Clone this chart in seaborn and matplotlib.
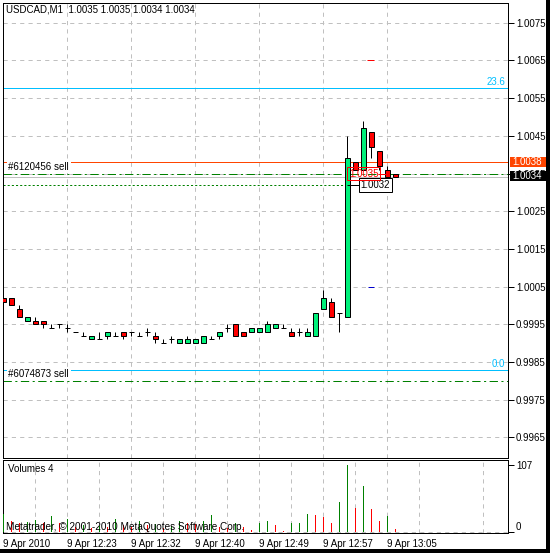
import matplotlib
matplotlib.use("Agg")
import matplotlib.pyplot as plt
import matplotlib.transforms as mtransforms
from matplotlib.patches import Rectangle
import numpy as np
import pandas as pd
import seaborn as sns

# ---------------- data ----------------
chart_title = "USDCAD,M1  1.0035 1.0035 1.0034 1.0034"
volume_title = "Volumes 4"
copyright_text = "Metatrader, \u00a9 2001-2010 MetaQuotes Software Corp."

opens  = [1.0002, 1.0002, 0.9999, 0.9996, 0.9996, 0.9996, 0.9994, 0.9995, 0.9994, 0.9993,
          0.9992, 0.9991, 0.9991, 0.9992, 0.9992, 0.9993, 0.9993, 0.9992, 0.9993, 0.9992,
          0.9990, 0.9991, 0.9990, 0.9990, 0.9990, 0.9990, 0.9991, 0.9992, 0.9994, 0.9995,
          0.9993, 0.9993, 0.9993, 0.9993, 0.9994, 0.9994, 0.9993, 0.9993, 0.9992, 0.9992,
          0.9999, 1.0001, 0.9998, 0.9997, 1.0038, 1.0036, 1.0046, 1.0041, 1.0036, 1.0035]
highs  = [1.0002, 1.0002, 1.0000, 0.9997, 0.9997, 0.9996, 0.9995, 0.9995, 0.9995, 0.9993,
          0.9993, 0.9992, 0.9993, 0.9993, 0.9993, 0.9993, 0.9993, 0.9993, 0.9994, 0.9993,
          0.9991, 0.9992, 0.9991, 0.9992, 0.9991, 0.9992, 0.9992, 0.9993, 0.9995, 0.9995,
          0.9993, 0.9994, 0.9994, 0.9996, 0.9995, 0.9995, 0.9994, 0.9994, 0.9994, 0.9998,
          1.0004, 1.0002, 0.9998, 1.0045, 1.0038, 1.0049, 1.0046, 1.0041, 1.0037, 1.0035]
lows   = [1.0000, 1.0000, 0.9997, 0.9996, 0.9995, 0.9994, 0.9994, 0.9994, 0.9993, 0.9993,
          0.9992, 0.9991, 0.9991, 0.9991, 0.9992, 0.9991, 0.9992, 0.9992, 0.9992, 0.9990,
          0.9990, 0.9990, 0.9990, 0.9990, 0.9990, 0.9990, 0.9991, 0.9991, 0.9993, 0.9992,
          0.9992, 0.9993, 0.9993, 0.9993, 0.9994, 0.9994, 0.9992, 0.9992, 0.9992, 0.9992,
          0.9999, 0.9997, 0.9993, 0.9997, 1.0036, 1.0036, 1.0039, 1.0036, 1.0034, 1.0034]
closes = [1.0001, 1.0000, 0.9997, 0.9997, 0.9995, 0.9995, 0.9994, 0.9995, 0.9994, 0.9993,
          0.9992, 0.9992, 0.9991, 0.9993, 0.9992, 0.9992, 0.9993, 0.9992, 0.9993, 0.9991,
          0.9990, 0.9991, 0.9991, 0.9991, 0.9991, 0.9992, 0.9991, 0.9993, 0.9994, 0.9992,
          0.9992, 0.9994, 0.9994, 0.9995, 0.9995, 0.9994, 0.9992, 0.9993, 0.9993, 0.9998,
          1.0002, 0.9997, 0.9998, 1.0039, 1.0036, 1.0047, 1.0042, 1.0037, 1.0034, 1.0034]
volumes = [29, 17, 13, 16, 18, 13, 25, 13, 21, 8,
           10, 6, 9, 7, 20, 11, 8, 17, 10, 12,
           6, 9, 17, 13, 12, 17, 27, 8, 6, 13,
           8, 3, 13, 17, 10, 1, 13, 14, 28, 27,
           24, 14, 47, 107, 38, 73, 36, 17, 25, 4]

date_positions = [0, 8, 16, 24, 32, 40, 48]
date_labels = ["9 Apr 2010", "9 Apr 12:23", "9 Apr 12:32", "9 Apr 12:40",
               "9 Apr 12:49", "9 Apr 12:57", "9 Apr 13:05"]
price_ticks = [0.9965, 0.9975, 0.9985, 0.9995, 1.0005, 1.0015, 1.0025,
               1.0035, 1.0045, 1.0055, 1.0065, 1.0075]
price_tick_labels = ["0.9965", "0.9975", "0.9985", "0.9995", "1.0005", "1.0015",
                     "1.0025", "1.0035", "1.0045", "1.0055", "1.0065", "1.0075"]

ask_level = 1.0038
bid_level = 1.0034
order1_level = 1.0035
order1_label = "#6120456 sell"
order2_level = 0.9980
order2_label = "#6074873 sell"
dotted_level = 1.0032
dotted_label = "1.0032"
close_label = "1.0035"
fib_levels = [0.99829, 1.00578]
fib_labels = ["0.0", "23.6"]
vol_max_label = 107

# ---------------- style ----------------
sns.set_style("white")
plt.rcParams["font.family"] = ["Liberation Sans", "DejaVu Sans"]
plt.rcParams["font.size"] = 7
plt.rcParams["lines.scale_dashes"] = False

W, H = 550, 553
fig = plt.figure(figsize=(W / 100, H / 100), dpi=100)
fig.patch.set_facecolor("white")

def rect(l, t, r, b):
    return [l / W, 1 - b / H, (r - l) / W, (b - t) / H]

ax = fig.add_axes(rect(2.5, 2.5, 507.5, 457.5))
axv = fig.add_axes(rect(2.5, 459.5, 507.5, 532.5), sharex=ax)

GREEN_UP = "#00F07A"
RED_DN = "#FF0000"
VOL_UP = "#008000"
ORDER_GREEN = "#008000"
GRID = "#C0C0C0"
LW = 0.72

n = len(opens)
xs = np.arange(n)
df = pd.DataFrame({"k": xs, "open": opens, "high": highs, "low": lows,
                   "close": closes, "vol": volumes})

# ---- main price panel ----
ax.set_xlim(-0.1, 63.0)
ax.set_ylim(0.995967, 1.008036)

ax.vlines(df["k"], df["low"], df["high"], color="black", lw=LW, zorder=3)
body = df[df["open"] != df["close"]]
doji = df[df["open"] == df["close"]]
cols = np.where(body["close"] > body["open"], GREEN_UP, RED_DN)
ax.bar(body["k"], (body["close"] - body["open"]).abs(),
       bottom=np.minimum(body["open"], body["close"]), width=0.56,
       color=cols, edgecolor="black", linewidth=LW, zorder=4)
ax.hlines(doji["close"], doji["k"] - 0.32, doji["k"] + 0.32, color="black", lw=LW, zorder=4)

# grid
ax.set_yticks(price_ticks)
ax.set_yticklabels(price_tick_labels)
ax.yaxis.tick_right()
ax.tick_params(axis="y", direction="out", length=4, width=LW, pad=2, labelsize=7,
               colors="black")
ax.set_xticks(np.arange(0, 64, 4))
ax.tick_params(axis="x", length=0, labelbottom=False)
ax.grid(True, color=GRID, linestyle=(0, (3, 3)), lw=LW, zorder=0)
for s in ax.spines.values():
    s.set_color("black")
    s.set_linewidth(LW)

# levels
ax.axhline(fib_levels[1], color="#00BFFF", lw=LW, zorder=2)
ax.axhline(fib_levels[0], color="#00BFFF", lw=LW, zorder=2)
for lev, lab in zip(fib_levels, fib_labels):
    ax.annotate(lab, xy=(1, lev), xycoords=("axes fraction", "data"),
                xytext=(-2, 1), textcoords="offset pixels", ha="right", va="bottom",
                color="#00BFFF", fontsize=7)
ax.axhline(ask_level, color="#FF4500", lw=LW, zorder=2)
ax.axhline(order1_level, color=ORDER_GREEN, lw=LW, linestyle=(0, (6, 2.5, 1.5, 2.5)), zorder=2)
ax.axhline(bid_level, color=GRID, lw=LW, zorder=2)
ax.axhline(order2_level, color=ORDER_GREEN, lw=LW, linestyle=(0, (6, 2.5, 1.5, 2.5)), zorder=2)
ax.hlines(dotted_level, -0.1, 43.0, color=ORDER_GREEN, lw=LW, linestyles=[(0, (1.5, 1.5))], zorder=2)
ax.hlines(dotted_level, 43.0, 44.4, color="black", lw=LW, zorder=5)

for lev, lab in [(order1_level, order1_label), (order2_level, order2_label)]:
    ax.annotate(lab, xy=(0, lev), xycoords=("axes fraction", "data"),
                xytext=(6, 2), textcoords="offset pixels", ha="left", va="bottom",
                color="black", fontsize=7, zorder=6,
                bbox=dict(facecolor="white", edgecolor="none", pad=1.2))

# labels near the last bars
ax.annotate(dotted_label, xy=(44.4, dotted_level), xycoords="data",
            xytext=(2, 0), textcoords="offset pixels", ha="left", va="center",
            color="black", fontsize=7, zorder=7,
            bbox=dict(facecolor="white", edgecolor="black", lw=LW, pad=1.5))
ax.hlines(order1_level, 46.8, 48.0, color=RED_DN, lw=LW, zorder=6)
ax.annotate(close_label, xy=(43.2, order1_level), xycoords="data",
            xytext=(0, 0), textcoords="offset pixels", ha="left", va="center",
            color=RED_DN, fontsize=7, zorder=7,
            bbox=dict(facecolor="none", edgecolor=RED_DN, lw=LW, pad=1.2))

# small markers
ax.hlines([1.0065], 45.5, 46.3, color=RED_DN, lw=LW, zorder=5)
ax.hlines([1.0005], 45.6, 46.3, color="#0000CD", lw=LW, zorder=5)

# right-axis price boxes (drawn over the 1.0035 tick label, as in the terminal)
bt = mtransforms.blended_transform_factory(ax.transAxes, ax.transData)
hbox = 10.5 / 37.7 * 0.001
for lev, fc, dy in [(ask_level, "#FF4500", 0.0), (bid_level, "black", 0.00004)]:
    ax.add_patch(Rectangle((1.005, lev + dy - hbox / 2), 0.0735, hbox, transform=bt,
                           facecolor=fc, edgecolor="none", clip_on=False, zorder=8))
    ax.text(1.0095, lev + dy, f"{lev:.4f}", transform=bt, ha="left", va="center",
            fontsize=7, color="white", clip_on=False, zorder=9)

ax.annotate(chart_title, xy=(0, 1), xycoords="axes fraction", xytext=(3.5, -7.5),
            textcoords="offset pixels", ha="left", va="center", fontsize=7, color="black")

# ---- volume panel ----
df["dir"] = ["up" if i == 0 or volumes[i] > volumes[i - 1] else "dn" for i in range(n)]
sns.barplot(data=df, x="k", y="vol", native_scale=True, width=0.17, errorbar=None,
            linewidth=0, color=VOL_UP, saturation=1, ax=axv, zorder=3)
bar_patches = sorted(axv.patches, key=lambda p: p.get_x())
for p, d in zip(bar_patches, df["dir"]):
    p.set_facecolor(VOL_UP if d == "up" else RED_DN)
    p.set_antialiased(False)
axv.set_xlim(-0.1, 63.0)
axv.set_ylim(-1.5, 116)
axv.set_xlabel("")
axv.set_ylabel("")
axv.set_xticks(date_positions)
axv.set_xticklabels(date_labels, ha="left")
axv.set_xticks(np.arange(4, 64, 8), minor=True)
axv.tick_params(axis="x", which="major", direction="out", length=4, width=LW, pad=0.5,
                labelsize=7, colors="black", labelbottom=True)
axv.tick_params(axis="x", which="minor", length=0)
axv.grid(True, axis="x", which="both", color=GRID, linestyle=(0, (3, 3)), lw=LW, zorder=0)
axv.axhline(0, color=GRID, linestyle=(0, (3, 3)), lw=LW, zorder=1)
axv.yaxis.tick_right()
axv.set_yticks([0, vol_max_label])
axv.set_yticklabels(["0", str(vol_max_label)])
axv.tick_params(axis="y", direction="out", length=4, width=LW, pad=2, labelsize=7,
                colors="black")
axv.get_yticklabels()[0].set_va("bottom")
for s in axv.spines.values():
    s.set_color("black")
    s.set_linewidth(LW)
plt.setp(ax.get_xticklabels(), visible=False)

axv.annotate(volume_title, xy=(0, 1), xycoords="axes fraction", xytext=(6, -10),
             textcoords="offset pixels", ha="left", va="center", fontsize=7, color="black")
axv.annotate(copyright_text, xy=(0, 0), xycoords="axes fraction", xytext=(3.5, 5.5),
             textcoords="offset pixels", ha="left", va="center", fontsize=7.2,
             color="black", zorder=10)

# outer black frame (right and bottom)
fig.patches.append(Rectangle((546 / W, 0), 4 / W, 1, transform=fig.transFigure,
                             facecolor="black", edgecolor="none"))
fig.patches.append(Rectangle((0, 0), 1, 4 / H, transform=fig.transFigure,
                             facecolor="black", edgecolor="none"))

fig.savefig("out.png", dpi=100)
